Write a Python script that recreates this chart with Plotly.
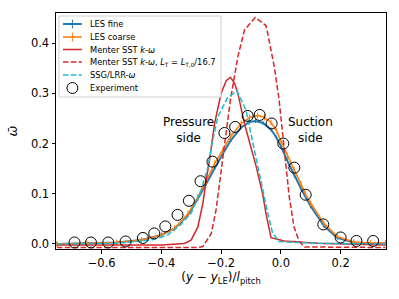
import plotly.graph_objects as go

# LES coarse
les_coarse_x = [-0.75, -0.65, -0.55, -0.467, -0.40, -0.356, -0.311, -0.278, -0.25, -0.222, -0.194, -0.167,
                -0.133, -0.105, -0.078, -0.055, -0.033, -0.015, 0.0, 0.022, 0.045, 0.067, 0.083, 0.1,
                0.144, 0.189, 0.244, 0.3, 0.35]
les_coarse_y = [0.0, 0.001, 0.003, 0.008, 0.018, 0.031, 0.060, 0.094, 0.125, 0.160, 0.187, 0.215,
                0.240, 0.252, 0.256, 0.252, 0.242, 0.226, 0.205, 0.175, 0.147, 0.120, 0.099, 0.081,
                0.041, 0.015, 0.004, 0.002, 0.002]

# LES fine
les_fine_x = [-0.75, -0.65, -0.55, -0.467, -0.40, -0.356, -0.311, -0.278, -0.25, -0.222, -0.194, -0.167,
              -0.133, -0.105, -0.085, -0.06, -0.033, -0.015, 0.0, 0.022, 0.045, 0.067, 0.083, 0.1,
              0.144, 0.189, 0.244, 0.3, 0.35]
les_fine_y = [0.0, 0.001, 0.003, 0.008, 0.018, 0.031, 0.058, 0.090, 0.120, 0.152, 0.180, 0.207,
              0.232, 0.243, 0.245, 0.241, 0.228, 0.212, 0.195, 0.165, 0.136, 0.111, 0.093, 0.075,
              0.036, 0.012, 0.003, 0.001, 0.001]

# Menter SST k-omega
sst_x = [-0.75, -0.40, -0.323, -0.30, -0.278, -0.261, -0.25, -0.239, -0.222, -0.20, -0.183, -0.169,
         -0.155, -0.144, -0.122, -0.106, -0.094, -0.083, -0.061, -0.05, -0.033, 0.011, 0.122, 0.35]
sst_y = [-0.002, -0.002, 0.001, 0.008, 0.034, 0.082, 0.127, 0.167, 0.240, 0.300, 0.325, 0.332,
         0.320, 0.300, 0.240, 0.205, 0.180, 0.155, 0.100, 0.061, 0.0125, 0.006, 0.0015, -0.002]

# Menter SST k-omega, L_T = L_T,0/16.7
sst_lt_x = [-0.75, -0.28, -0.261, -0.233, -0.217, -0.206, -0.194, -0.18, -0.169, -0.144, -0.122, -0.086,
            -0.05, -0.044, -0.022, -0.006, 0.006, 0.017, 0.028, 0.044, 0.061, 0.08, 0.35]
sst_lt_y = [-0.007, -0.007, -0.005, 0.021, 0.068, 0.121, 0.167, 0.235, 0.287, 0.373, 0.426, 0.451,
            0.435, 0.419, 0.353, 0.287, 0.22, 0.167, 0.094, 0.034, 0.005, -0.006, -0.007]

# SSG/LRR-omega
ssg_x = [-0.75, -0.544, -0.433, -0.378, -0.333, -0.30, -0.267, -0.244, -0.228, -0.211, -0.18, -0.147,
         -0.117, -0.1, -0.083, -0.064, -0.044, -0.028, -0.006, 0.05, 0.15, 0.35]
ssg_y = [0.0, 0.0015, 0.008, 0.018, 0.040, 0.062, 0.107, 0.154, 0.207, 0.253, 0.290, 0.305,
         0.267, 0.220, 0.167, 0.118, 0.061, 0.022, 0.005, 0.003, 0.001, 0.0]

# Experiment
exp_x = [-0.691, -0.636, -0.578, -0.52, -0.462, -0.424, -0.387, -0.346, -0.308, -0.269, -0.229, -0.189,
         -0.153, -0.111, -0.071, -0.031, 0.008, 0.045, 0.083, 0.142, 0.2, 0.253, 0.309]
exp_y = [0.003, 0.003, 0.003, 0.005, 0.012, 0.021, 0.035, 0.058, 0.086, 0.125, 0.164, 0.221,
         0.233, 0.255, 0.257, 0.240, 0.200, 0.152, 0.098, 0.039, 0.013, 0.006, 0.006]

x_ticks = [-0.6, -0.4, -0.2, 0.0, 0.2]
y_ticks = [0.0, 0.1, 0.2, 0.3, 0.4]

legend_names = ["LES fine", "LES coarse", "Menter SST <i>k</i>-<i>ω</i>",
                "Menter SST <i>k</i>-<i>ω</i>, <i>L</i><sub>T</sub> = <i>L</i><sub>T,0</sub>/16.7",
                "SSG/LRR-<i>ω</i>", "Experiment"]

BLUE = "#1f77b4"
ORANGE = "#ff7f0e"
RED = "#d62728"
CYAN = "#17becf"
DASH = "5.5px,2.4px"

# plot-area geometry in pixels (for the hand-made legend)
W, H = 399, 299
ML, MR, MT, MB = 54, 13, 13, 50
PW, PH = W - ML - MR, H - MT - MB


def px(xp):
    return (xp - ML) / PW


def py(yp):
    return (H - MB - yp) / PH


fig = go.Figure()
fig.add_trace(go.Scatter(x=les_fine_x, y=les_fine_y, mode="lines", name=legend_names[0],
                         line=dict(color=BLUE, width=2),
                         error_y=dict(type="constant", value=0.004, color=BLUE, thickness=1, width=0)))
fig.add_trace(go.Scatter(x=les_coarse_x, y=les_coarse_y, mode="lines", name=legend_names[1],
                         line=dict(color=ORANGE, width=1.6),
                         error_y=dict(type="constant", value=0.006, color=ORANGE, thickness=1, width=0)))
fig.add_trace(go.Scatter(x=sst_x, y=sst_y, mode="lines", name=legend_names[2],
                         line=dict(color=RED, width=1.5)))
fig.add_trace(go.Scatter(x=sst_lt_x, y=sst_lt_y, mode="lines", name=legend_names[3],
                         line=dict(color=RED, width=1.5, dash=DASH)))
fig.add_trace(go.Scatter(x=ssg_x, y=ssg_y, mode="lines", name=legend_names[4],
                         line=dict(color=CYAN, width=1.5, dash=DASH)))
fig.add_trace(go.Scatter(x=exp_x, y=exp_y, mode="markers", name=legend_names[5],
                         marker=dict(symbol="circle-open", size=11, color="black",
                                     line=dict(width=1, color="black"))))

fig.add_annotation(x=-0.31, y=0.227, text="Pressure<br>side", showarrow=False,
                   font=dict(size=12, color="black"))
fig.add_annotation(x=0.1, y=0.227, text="Suction<br>side", showarrow=False,
                   font=dict(size=12, color="black"))

# hand-made compact legend (matplotlib style)
shapes = [dict(type="rect", xref="paper", yref="paper", x0=px(57), x1=px(220), y0=py(97), y1=py(16),
               line=dict(color="#d0d0d0", width=1), fillcolor="rgba(255,255,255,0.85)", layer="above")]
leg_styles = [(BLUE, None, 2, True), (ORANGE, None, 1.6, True), (RED, None, 1.5, False),
              (RED, DASH, 1.5, False), (CYAN, DASH, 1.5, False), (None, None, 1, False)]
row_y = [24, 37, 49.5, 62, 75, 88]
for (col, dash, lw, ebar), yy, name in zip(leg_styles, row_y, legend_names):
    if col is not None:
        ln = dict(color=col, width=lw)
        if dash:
            ln["dash"] = dash
        shapes.append(dict(type="line", xref="paper", yref="paper", x0=px(61), x1=px(80),
                           y0=py(yy), y1=py(yy), line=ln, layer="above"))
        if ebar:
            shapes.append(dict(type="line", xref="paper", yref="paper", x0=px(70.5), x1=px(70.5),
                               y0=py(yy - 4.5), y1=py(yy + 4.5), line=dict(color=col, width=1),
                               layer="above"))
    else:
        shapes.append(dict(type="circle", xref="paper", yref="paper", x0=px(65), x1=px(76),
                           y0=py(yy + 5.5), y1=py(yy - 5.5), line=dict(color="black", width=1),
                           layer="above"))
    fig.add_annotation(xref="paper", yref="paper", x=px(86), y=py(yy), xanchor="left", yanchor="middle",
                       text=name, showarrow=False, font=dict(size=8.3, color="black"))
fig.update_layout(shapes=shapes)

axis_common = dict(showline=True, linecolor="black", linewidth=1, mirror=True, ticks="outside",
                   ticklen=3.5, tickwidth=1, tickcolor="black", showgrid=False, zeroline=False,
                   tickfont=dict(size=11.5, color="black"))

fig.update_xaxes(range=[-0.753, 0.352], tickvals=x_ticks, tickformat=".1f",
                 title=dict(text="(<i>y</i> − <i>y</i><sub>LE</sub>)/<i>l</i><sub>pitch</sub>",
                            font=dict(size=12, color="black"), standoff=2),
                 **axis_common)
fig.update_yaxes(range=[-0.01, 0.46], tickvals=y_ticks, tickformat=".1f",
                 title=dict(text="<i>ω̄</i>", font=dict(size=13, color="black"), standoff=10),
                 **axis_common)

fig.update_layout(
    width=W, height=H,
    margin=dict(l=ML, r=MR, t=MT, b=MB),
    paper_bgcolor="white", plot_bgcolor="white",
    font=dict(family="DejaVu Sans", color="black"),
    showlegend=False,
)

fig.write_html("out.html", config={"displayModeBar": False},
               post_script="document.body.style.margin='0';")
